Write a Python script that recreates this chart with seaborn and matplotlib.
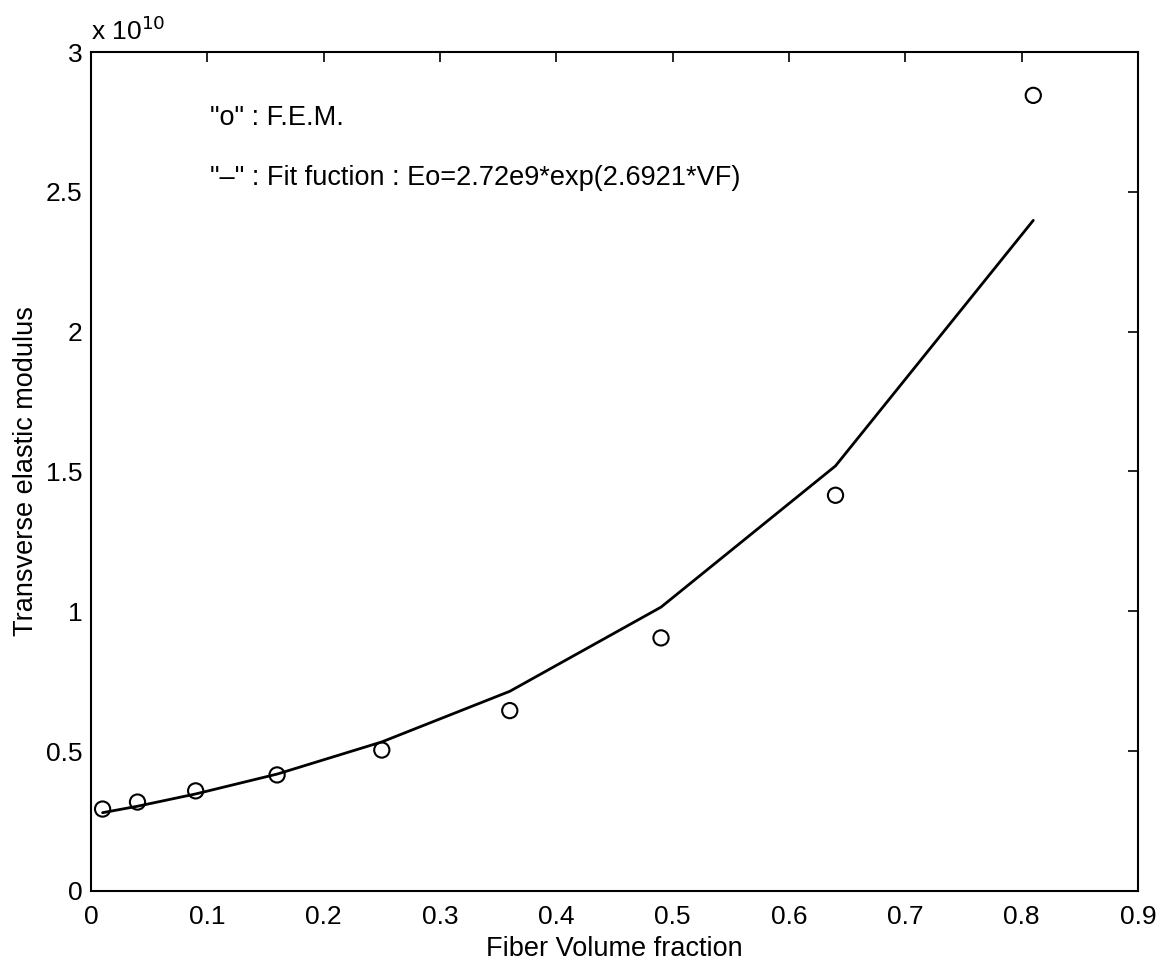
import matplotlib
matplotlib.use("Agg")
import matplotlib.pyplot as plt
import seaborn as sns
import pandas as pd

# Data (modulus in units of 1e10)
vf_fem = [0.01, 0.04, 0.09, 0.16, 0.25, 0.36, 0.49, 0.64, 0.81]
e_fem = [0.293, 0.318, 0.358, 0.415, 0.504, 0.645, 0.905, 1.415, 2.845]
vf_fit = [0.01, 0.04, 0.09, 0.16, 0.25, 0.36, 0.49, 0.64, 0.81]
e_fit = [0.280, 0.303, 0.347, 0.418, 0.533, 0.714, 1.015, 1.520, 2.398]

x_ticks = [0, 0.1, 0.2, 0.3, 0.4, 0.5, 0.6, 0.7, 0.8, 0.9]
x_tick_labels = ["0", "0.1", "0.2", "0.3", "0.4", "0.5", "0.6", "0.7", "0.8", "0.9"]
y_ticks = [0, 0.5, 1, 1.5, 2, 2.5, 3]
y_tick_labels = ["0", "0.5", "1", "1.5", "2", "2.5", "3"]

sns.set_theme(style="white")
plt.rcParams["font.family"] = ["Liberation Sans", "DejaVu Sans"]

fig = plt.figure(figsize=(11.63, 9.65), dpi=100)
ax = fig.add_axes([0.0782, 0.0767, 0.9003, 0.8694])

df_fit = pd.DataFrame({"vf": vf_fit, "e": e_fit})
df_fem = pd.DataFrame({"vf": vf_fem, "e": e_fem})

sns.lineplot(data=df_fit, x="vf", y="e", ax=ax, color="black", linewidth=2.0,
             sort=False, estimator=None)
sns.scatterplot(data=df_fem, x="vf", y="e", ax=ax, marker="o", s=120,
                facecolors="none", edgecolor="black", linewidth=1.5, zorder=3)

ax.set_xlim(0, 0.9)
ax.set_ylim(0, 3)
ax.set_xticks(x_ticks)
ax.set_xticklabels(x_tick_labels)
ax.set_yticks(y_ticks)
ax.set_yticklabels(y_tick_labels)

ax.tick_params(axis="both", direction="in", length=7, width=1.2, color="black",
               labelsize=19, labelcolor="black", top=True, right=True)
ax.tick_params(axis="x", pad=10)
ax.tick_params(axis="y", pad=6)

for sp in ax.spines.values():
    sp.set_visible(True)
    sp.set_color("black")
    sp.set_linewidth(1.5)

ax.set_xlabel("Fiber Volume fraction", fontsize=19.5, color="black", labelpad=5)
ax.set_ylabel("Transverse elastic modulus", fontsize=19.5, color="black", labelpad=5)

ax.text(0.102, 2.764, '"o" : F.E.M.', fontsize=19.5, color="black", va="center", ha="left")
ax.text(0.102, 2.549, '"\u2013" : Fit fuction : Eo=2.72e9*exp(2.6921*VF)', fontsize=19.5,
        color="black", va="center", ha="left")

ax.text(0.0, 1.008, r"x 10$^{10}$", transform=ax.transAxes, fontsize=19,
        color="black", ha="left", va="bottom")

fig.savefig("out.png", dpi=100, facecolor="white")
